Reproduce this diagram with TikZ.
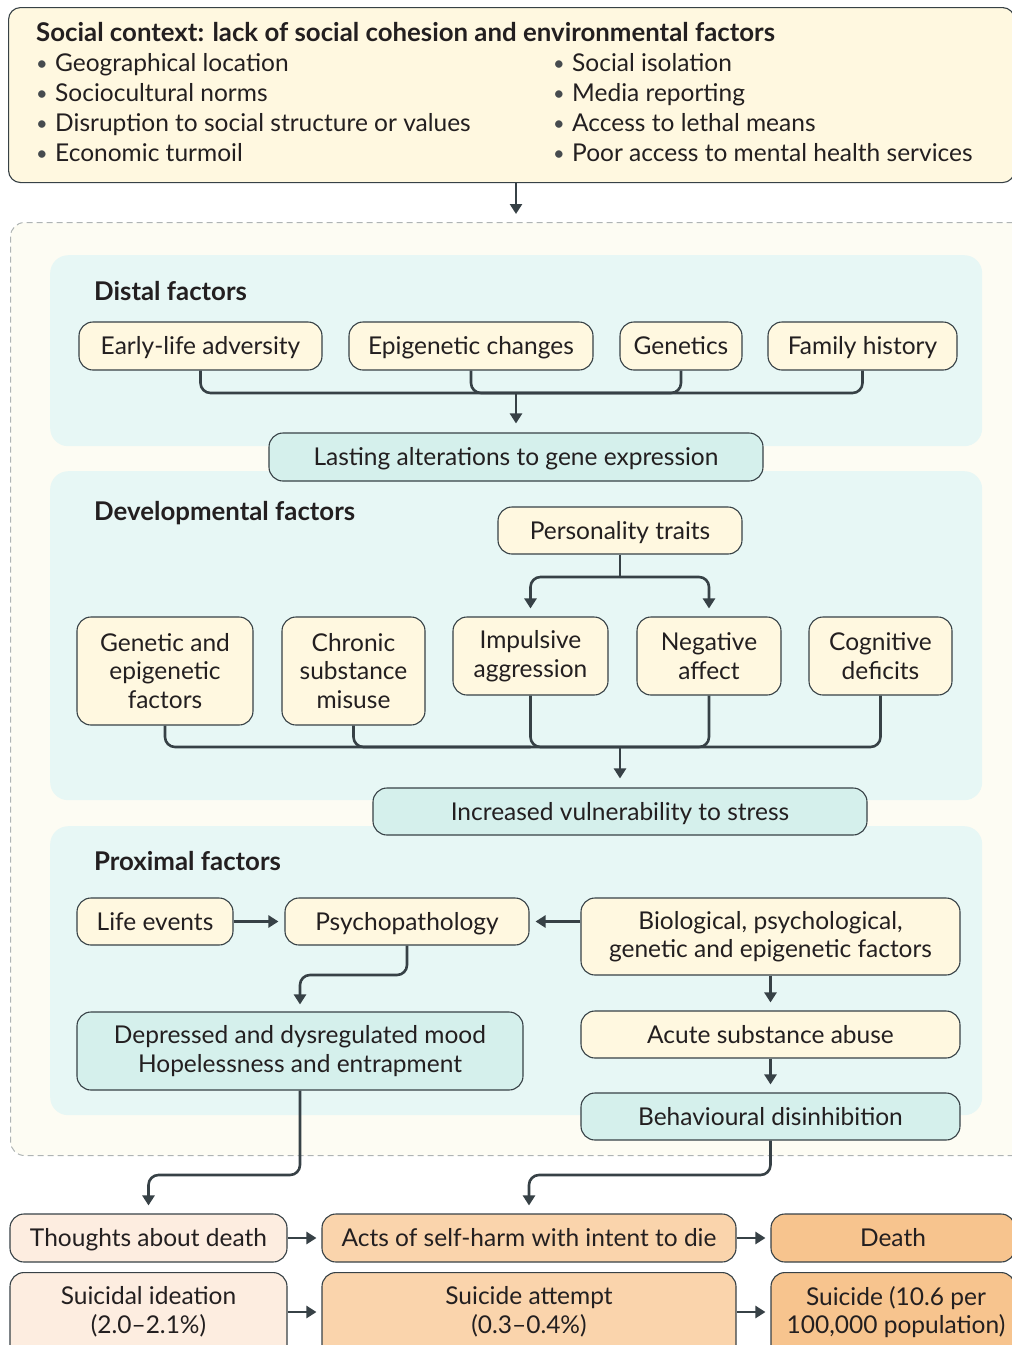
\documentclass[tikz,border=0pt]{standalone}
\usepackage{fontspec}
\setmainfont{Lato}
\usetikzlibrary{arrows.meta}
\definecolor{linec}{RGB}{55,65,70}
\definecolor{txtc}{RGB}{35,31,32}
\definecolor{cream}{RGB}{255,248,224}
\definecolor{outerc}{RGB}{253,252,243}
\definecolor{panelc}{RGB}{231,247,245}
\definecolor{tealc}{RGB}{213,240,236}
\definecolor{peachA}{RGB}{253,237,224}
\definecolor{peachB}{RGB}{250,212,172}
\definecolor{peachC}{RGB}{247,196,142}
\definecolor{dashc}{RGB}{175,180,180}
\definecolor{bulc}{RGB}{70,75,78}
\newcommand\fsn{\fontsize{24.5}{28.5}\selectfont}
\newcommand\fsb{\fontsize{25.8}{28.5}\selectfont\bfseries}
\newcommand\bl{\makebox[19pt][l]{\raisebox{1pt}{\color{bulc}\fontsize{20}{20}\selectfont\textbullet}}}
\begin{document}
\begin{tikzpicture}[x=1pt,y=-1pt,
  every node/.style={text=txtc},
  box/.style={draw=linec, line width=1.1pt, rounded corners=14pt, align=center, inner sep=0pt, font=\fsn},
  one/.style={text height=17.6pt, text depth=0pt},
  yel/.style={box, fill=cream},
  tea/.style={box, fill=tealc},
  pa/.style={box, fill=peachA},
  pb/.style={box, fill=peachB},
  pc/.style={box, fill=peachC},
  panel/.style={fill=panelc, rounded corners=18pt, inner sep=0pt, anchor=north west},
  lbl/.style={anchor=base west, inner sep=0pt, font=\fsb},
  bul/.style={anchor=base west, inner sep=0pt, font=\fsn},
  conn/.style={draw=linec, line width=2.6pt, rounded corners=10pt},
  arr/.style={conn, -{Triangle[length=10pt,width=12pt]}},
]
\useasboundingbox (0,0) rectangle (1012,1345);
\clip (0,0) rectangle (1012,1345);

% social context box
\node[yel, rounded corners=12pt, minimum width=1006pt, minimum height=175pt, anchor=north west] (social) at (8,7) {};
\node[lbl] (title) at (36,41) {Social context: lack of social cohesion and environmental factors};
\node[bul] (b1) at (36,71) {\bl Geographical location};
\node[bul] (b2) at (36,101) {\bl Sociocultural norms};
\node[bul] (b3) at (36,131) {\bl Disruption to social structure or values};
\node[bul] (b4) at (36,161) {\bl Economic turmoil};
\node[bul] (b5) at (553,71) {\bl Social isolation};
\node[bul] (b6) at (553,101) {\bl Media reporting};
\node[bul] (b7) at (553,131) {\bl Access to lethal means};
\node[bul] (b8) at (553,161) {\bl Poor access to mental health services};

% outer dashed region
\node[draw=dashc, line width=1pt, dash pattern=on 6pt off 4pt, fill=outerc, rounded corners=14pt, minimum width=1016pt, minimum height=933pt, anchor=north west, inner sep=0pt] (outer) at (10,222) {};
\coordinate (tip) at (516,0);
\draw[arr, shorten >=8pt] (social.south -| tip) -- (outer.north -| tip);

% panels
\node[panel, minimum width=932pt, minimum height=191pt] (distal) at (50,255) {};
\node[panel, minimum width=932pt, minimum height=329pt] (devel) at (50,471) {};
\node[panel, minimum width=932pt, minimum height=289pt] (prox) at (50,826) {};
\node[lbl] (ldist) at (94,300) {Distal factors};
\node[lbl] (ldev) at (94,520) {Developmental factors};
\node[lbl] (lprox) at (94,870) {Proximal factors};

% distal
\node[yel, one, minimum width=243pt, minimum height=48pt] (early) at (200.5,346) {Early-life adversity};
\node[yel, one, minimum width=244pt, minimum height=48pt] (epi) at (471,346) {Epigenetic changes};
\node[yel, one, minimum width=122pt, minimum height=48pt] (gen) at (681,346) {Genetics};
\node[yel, one, minimum width=189pt, minimum height=48pt] (fam) at (862.5,346) {Family history};
\node[tea, one, minimum width=494pt, minimum height=48pt] (last) at (516,457) {Lasting alterations to gene expression};
\coordinate (dbar) at (516,393);
\draw[conn] (early.south) |- (fam.south |- dbar) -- (fam.south);
\draw[conn] (epi.south) |- (gen.south |- dbar) -- (gen.south);
\draw[arr, shorten >=9pt] (dbar) -- (last.north);

% developmental
\node[yel, one, minimum width=244pt, minimum height=47pt] (pers) at (620,530.5) {Personality traits};
\node[yel, minimum width=176pt, minimum height=108pt] (gef) at (165,671) {Genetic and\\epigenetic\\factors};
\node[yel, minimum width=143pt, minimum height=108pt] (csm) at (353.5,671) {Chronic\\substance\\misuse};
\node[yel, minimum width=155pt, minimum height=78pt] (imp) at (530.5,656) {Impulsive\\aggression};
\node[yel, minimum width=144pt, minimum height=78pt] (neg) at (709,656) {Negative\\affect};
\node[yel, minimum width=143pt, minimum height=78pt] (cog) at (880.5,656) {Cognitive\\deficits};
\node[tea, one, minimum width=494pt, minimum height=47pt] (vuln) at (620,811.5) {Increased vulnerability to stress};
\coordinate (pbar) at (620,577);
\draw[conn] (pers.south) -- (pbar);
\draw[arr, shorten >=8pt] (pbar) -| (imp.north);
\draw[arr, shorten >=8pt] (pbar) -| (neg.north);
\coordinate (vbar) at (620,747);
\draw[conn] (gef.south) |- (cog.south |- vbar) -- (cog.south);
\draw[conn] (csm.south) |- (imp.south |- vbar);
\draw[conn] (imp.south) |- (neg.south |- vbar) -- (neg.south);
\draw[arr, shorten >=9pt] (vbar) -- (vuln.north);

% proximal
\node[yel, one, minimum width=156pt, minimum height=47pt] (life) at (155,921.5) {Life events};
\node[yel, one, minimum width=244pt, minimum height=47pt] (psy) at (407,921.5) {Psychopathology};
\node[yel, minimum width=379pt, minimum height=77pt] (bio) at (770.5,936.5) {Biological, psychological,\\genetic and epigenetic factors};
\node[tea, minimum width=446pt, minimum height=78pt] (dep) at (300,1051) {Depressed and dysregulated mood\\Hopelessness and entrapment};
\node[yel, one, minimum width=379pt, minimum height=47pt] (acute) at (770.5,1034.5) {Acute substance abuse};
\node[tea, one, minimum width=379pt, minimum height=47pt] (beh) at (770.5,1116.5) {Behavioural disinhibition};
\draw[arr, shorten >=6pt] (life.east) -- (psy.west);
\draw[arr, shorten >=6pt] (bio.west |- psy.east) -- (psy.east);
\coordinate (pbend) at (0,975);
\draw[arr, shorten >=7pt] (psy.south) |- (dep.north |- pbend) -- (dep.north);
\draw[arr, shorten >=8pt] (bio.south) -- (acute.north);
\draw[arr, shorten >=8pt] (acute.south) -- (beh.north);

% outcomes
\node[pa, one, minimum width=277pt, minimum height=48pt] (thought) at (148.5,1238) {Thoughts about death};
\node[pb, one, minimum width=414pt, minimum height=48pt] (acts) at (529,1238) {Acts of self-harm with intent to die};
\node[pc, one, minimum width=244pt, minimum height=48pt] (death) at (893,1238) {Death};
\node[pa, minimum width=277pt, minimum height=90pt, anchor=north] (ideat) at (148.5,1272) {};
\node[pb, minimum width=414pt, minimum height=90pt, anchor=north] (att) at (529,1272) {};
\node[pc, minimum width=244pt, minimum height=90pt, anchor=north] (sui) at (893,1272) {};
\node[font=\fsn, align=center, inner sep=0pt] (tideat) at (148.5,1312) {Suicidal ideation\\(2.0–2.1\%)};
\node[font=\fsn, align=center, inner sep=0pt] (tatt) at (529,1312) {Suicide attempt\\(0.3–0.4\%)};
\node[font=\fsn, align=center, inner sep=0pt] (tsui) at (896,1312) {Suicide (10.6 per\\100,000 population)};
\coordinate (lbend) at (0,1175);
\draw[arr, shorten >=8pt] (dep.south) |- (thought.north |- lbend) -- (thought.north);
\draw[arr, shorten >=8pt] (beh.south) |- (acts.north |- lbend) -- (acts.north);
\draw[arr, shorten >=5pt] (thought.east) -- (acts.west);
\draw[arr, shorten >=5pt] (acts.east) -- (death.west);
\draw[arr, shorten >=5pt] (ideat.east |- tideat) -- (att.west |- tatt);
\draw[arr, shorten >=5pt] (att.east |- tatt) -- (sui.west |- tsui);
\end{tikzpicture}
\end{document}
